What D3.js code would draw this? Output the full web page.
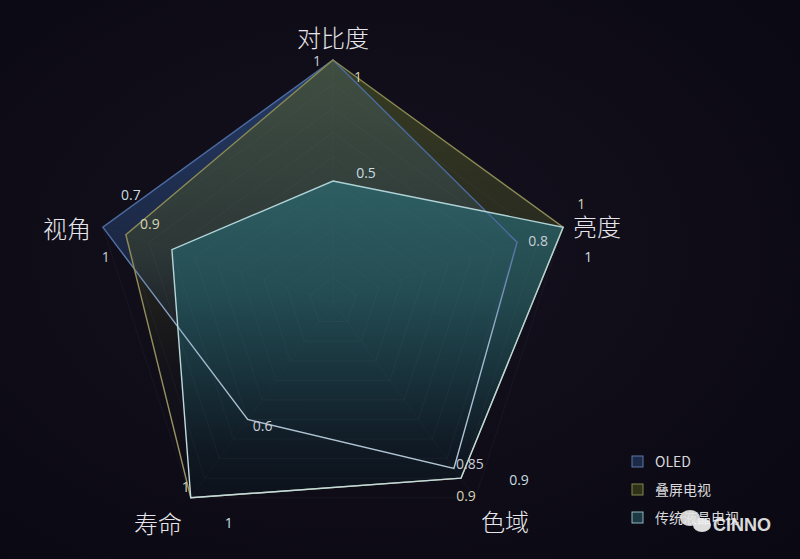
<!DOCTYPE html>
<html>
<head>
<meta charset="utf-8">
<script src="https://cdn.jsdelivr.net/npm/d3@7/dist/d3.min.js"></script>
<style>
html,body{margin:0;padding:0;background:#0e0b17;}
svg{display:block;}
</style>
</head>
<body>
<svg id="chart" width="800" height="559"></svg>
<script>
// ---- data ----
const categories = ['对比度', '亮度', '色域', '寿命', '视角'];
const seriesNames = ['OLED', '叠屏电视', '传统液晶电视'];
const oledValues = [1, 0.8, 0.85, 0.6, 1];
const stackedValues = [1, 1, 0.9, 1, 0.9];
const lcdValues = [0.5, 1, 0.9, 1, 0.7];
const gridLevels = [0.1, 0.2, 0.3, 0.4, 0.5, 0.6, 0.7, 0.8, 0.9, 1];
const valueLabelsOLED = ['1', '0.8', '0.85', '0.6', '1'];
const valueLabelsStacked = ['1', '1', '0.9', '1', '0.9'];
const valueLabelsLCD = ['0.5', '1', '0.9', '1', '0.7'];

// ---- layout / style ----
const W = 800, H = 559;
const cx = 333, cy = 302, R = 242;
const svg = d3.select('#chart');

const styles = [
  {strokeStops: [['0%', '#4a6aa0'], ['40%', '#4a6aa0'], ['65%', '#9fb6cc'], ['100%', '#b8cbd6']],
   stops: [['0%', '#2c4a80', 0.78], ['45%', '#263f6a', 0.5], ['72%', '#1a2a48', 0.15], ['100%', '#141c30', 0.0]], legend: '#1c2a48', legendStroke: '#5a78a8', text: '#c9cdd6'},
  {strokeStops: [['0%', '#86864f'], ['100%', '#9a9464']],
   stops: [['0%', '#505a28', 0.62], ['45%', '#434b24', 0.42], ['72%', '#2a3018', 0.12], ['100%', '#1e2012', 0.0]], legend: '#2e3218', legendStroke: '#86864f', text: '#d6d3b4'},
  {strokeStops: [['0%', '#a3cdd0'], ['100%', '#c4dce0']],
   stops: [['0%', '#2f7074', 0.8], ['30%', '#2b646a', 0.8], ['55%', '#23525a', 0.8], ['72%', '#193841', 0.82], ['88%', '#101c26', 0.85], ['100%', '#0c121c', 0.85]], legend: '#1d3a44', legendStroke: '#8fb8c0', text: '#c8dde0'}
];
// label offsets (pixels) relative to each data point, per series, per category
const labelOffsets = [
  [[-16, 0], [21, -2], [16, -5], [15, 6], [3, 29]],
  [[25, 16], [18, -24], [5, 17], [-5, -11], [24, -11]],
  [[33, -9], [25, 29], [58, 1], [38, 25], [-41, -55]]
];
const catLabelPos = [[0, -266], [264, -77], [172, 218], [-175, 220], [-266, -75]];

const seriesValues = [oledValues, stackedValues, lcdValues];
const seriesLabels = [valueLabelsOLED, valueLabelsStacked, valueLabelsLCD];

const defs = svg.append('defs');
const bg = defs.append('radialGradient').attr('id', 'bg').attr('cx', '45%').attr('cy', '45%').attr('r', '75%');
bg.append('stop').attr('offset', '0%').attr('stop-color', '#15121f');
bg.append('stop').attr('offset', '100%').attr('stop-color', '#0a0812');
svg.append('rect').attr('width', W).attr('height', H).attr('fill', 'url(#bg)');

// gradients in the plot's local coordinates (origin at the chart centre)
styles.forEach((s, i) => {
  const g = defs.append('linearGradient').attr('id', 'fill' + i)
    .attr('gradientUnits', 'userSpaceOnUse')
    .attr('x1', 0).attr('y1', -R).attr('x2', 0).attr('y2', R * 0.81);
  s.stops.forEach(st => g.append('stop').attr('offset', st[0]).attr('stop-color', st[1]).attr('stop-opacity', st[2]));
  const sg = defs.append('linearGradient').attr('id', 'stroke' + i)
    .attr('gradientUnits', 'userSpaceOnUse')
    .attr('x1', 0).attr('y1', -R).attr('x2', 0).attr('y2', R * 0.81);
  s.strokeStops.forEach(st => sg.append('stop').attr('offset', st[0]).attr('stop-color', st[1]));
});

const r = d3.scaleLinear().domain([0, 1]).range([0, R]);
const angle = d3.scaleLinear().domain([0, categories.length]).range([0, 2 * Math.PI]);
const pt = (v, i) => [cx + r(v) * Math.sin(angle(i)), cy - r(v) * Math.cos(angle(i))];

const plot = svg.append('g').attr('transform', `translate(${cx},${cy})`);
const radial = d3.lineRadial().angle((d, i) => angle(i)).radius(d => r(d)).curve(d3.curveLinearClosed);

// series polygons
seriesValues.forEach((vals, si) => {
  plot.append('path')
    .attr('d', radial(vals))
    .attr('fill', `url(#fill${si})`)
    .attr('stroke', 'none');
});

// grid (faint, drawn over fills)
plot.selectAll('path.grid').data(gridLevels).enter().append('path')
  .attr('class', 'grid')
  .attr('d', lv => radial(categories.map(() => lv)))
  .attr('fill', 'none').attr('stroke', '#7a8494').attr('stroke-opacity', 0.08).attr('stroke-width', 1);
plot.selectAll('line.spoke').data(categories).enter().append('line')
  .attr('x1', 0).attr('y1', 0)
  .attr('x2', (d, i) => r(1) * Math.sin(angle(i)))
  .attr('y2', (d, i) => -r(1) * Math.cos(angle(i)))
  .attr('stroke', '#7a8494').attr('stroke-opacity', 0.05);

// series outlines
seriesValues.forEach((vals, si) => {
  plot.append('path')
    .attr('d', radial(vals))
    .attr('fill', 'none')
    .attr('stroke', `url(#stroke${si})`)
    .attr('stroke-width', 1.4)
    .attr('stroke-linejoin', 'miter');
});

// value labels
seriesValues.forEach((vals, si) => {
  vals.forEach((v, i) => {
    const p = pt(v, i);
    svg.append('text')
      .attr('x', p[0] + labelOffsets[si][i][0])
      .attr('y', p[1] + labelOffsets[si][i][1])
      .attr('text-anchor', 'middle').attr('dominant-baseline', 'central')
      .attr('font-family', '"Open Sans", "Noto Sans", sans-serif')
      .attr('font-size', 14)
      .attr('fill', styles[si].text)
      .text(seriesLabels[si][i]);
  });
});

// category labels
categories.forEach((c, i) => {
  svg.append('text')
    .attr('x', cx + catLabelPos[i][0]).attr('y', cy + catLabelPos[i][1])
    .attr('text-anchor', 'middle').attr('dominant-baseline', 'central')
    .attr('font-family', '"Noto Sans CJK SC", sans-serif')
    .attr('font-weight', 300)
    .attr('font-size', 24).attr('fill', '#e6e6ea')
    .text(c);
});

// legend
const legend = svg.append('g').attr('transform', 'translate(637,461)');
seriesNames.forEach((n, i) => {
  const g = legend.append('g').attr('transform', `translate(0,${i * 28})`);
  g.append('rect').attr('x', -5).attr('y', -5).attr('width', 11).attr('height', 11)
    .attr('fill', styles[i].legend).attr('stroke', styles[i].legendStroke).attr('stroke-width', 1);
  g.append('text').attr('x', 18).attr('y', 0).attr('dominant-baseline', 'central')
    .attr('font-family', '"Noto Sans CJK SC", sans-serif')
    .attr('font-size', 14).attr('fill', '#d8d8dc').text(n);
});

// watermark
const wm = svg.append('g').attr('opacity', 0.9);
wm.append('ellipse').attr('cx', 690).attr('cy', 518).attr('rx', 10).attr('ry', 8).attr('fill', '#e8e8e8');
wm.append('ellipse').attr('cx', 702).attr('cy', 525).attr('rx', 9).attr('ry', 7).attr('fill', '#f4f4f4');
wm.append('text').attr('x', 713).attr('y', 531).attr('font-family', '"Liberation Sans", Arial, sans-serif')
  .attr('font-size', 18).attr('font-weight', 'bold').attr('fill', '#f0f0f0').text('CINNO');
</script>
</body>
</html>
